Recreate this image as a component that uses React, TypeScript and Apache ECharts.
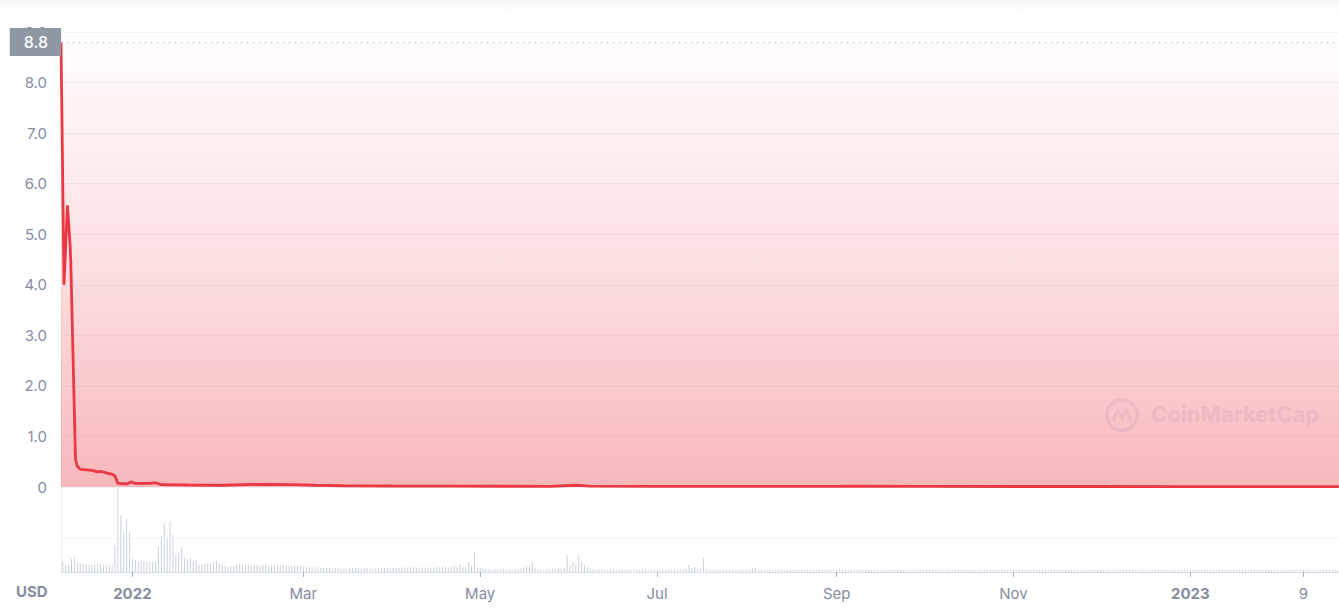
import React, { useEffect, useRef } from 'react';
import * as echarts from 'echarts';

// price samples (local time)
const priceDates = [
  '2021-12-07 09:00', '2021-12-08 10:00', '2021-12-09 14:00', '2021-12-10 12:00', '2021-12-10 18:00',
  '2021-12-12 09:00', '2021-12-12 22:00', '2021-12-14 00:00', '2021-12-16 00:00', '2021-12-18 00:00',
  '2021-12-20 00:00', '2021-12-21 00:00', '2021-12-23 00:00', '2021-12-25 00:00', '2021-12-26 00:00',
  '2021-12-27 00:00', '2021-12-30 00:00', '2021-12-31 12:00', '2022-01-02 00:00', '2022-01-07 00:00',
  '2022-01-09 00:00', '2022-01-11 00:00', '2022-01-20 00:00', '2022-02-01 00:00', '2022-02-15 00:00',
  '2022-02-25 00:00', '2022-03-05 00:00', '2022-03-15 00:00', '2022-04-01 00:00', '2022-04-20 00:00',
  '2022-05-10 00:00', '2022-05-25 00:00', '2022-06-03 00:00', '2022-06-08 00:00', '2022-07-01 00:00',
  '2022-08-01 00:00', '2022-09-01 00:00', '2022-09-05 00:00', '2022-10-01 00:00', '2022-11-01 00:00',
  '2022-12-01 00:00', '2023-01-01 00:00', '2023-02-01 00:00', '2023-02-21 06:00'
];
const priceValues = [
  8.8, 4.0, 5.57, 4.8, 4.45,
  0.55, 0.42, 0.35, 0.34, 0.33,
  0.3, 0.31, 0.28, 0.25, 0.22,
  0.07, 0.06, 0.1, 0.07, 0.07,
  0.085, 0.045, 0.04, 0.035, 0.053,
  0.045, 0.035, 0.025, 0.02, 0.018,
  0.015, 0.012, 0.035, 0.018, 0.014,
  0.013, 0.012, 0.016, 0.011, 0.01,
  0.01, 0.009, 0.009, 0.008
];

// daily volume, first bar on 2021-12-08 (arbitrary units)
const volumeStart = '2021-12-08 00:00';
const volumes = [
  10.7, 6.7, 6.7, 13, 15, 9.3, 8.7, 8, 7.3, 7.3, 7.3, 7.3, 8, 8.3, 7.3, 6.7, 6.7, 6.7, 26.7, 84,
  56.7, 39.3, 54, 39.3, 13.3, 12.3, 10, 11.7, 10.7, 10, 10, 10, 10.7, 25.7, 36, 48.7, 35, 50.7, 37.3, 16.7,
  19.3, 24, 14.3, 13.3, 13.3, 11.7, 11.7, 7.3, 6.7, 8.3, 8.3, 8.3, 10, 11.3, 8, 7, 6.5, 5.5, 5.5, 6,
  7.8, 8, 7.5, 8, 7.2, 6.4, 7.5, 6.8, 6, 7.2, 7.6, 5.8, 6.5, 6.2, 6.6, 6.5, 7.2, 6.8, 6.3, 6.6,
  7, 6, 6.5, 5.2, 4.6, 4.8, 5.1, 4.2, 4.5, 4.3, 4, 4.2, 4.1, 3.8, 3.9, 4, 3.6, 3.8, 3.5, 4.2,
  3.9, 4.1, 3.7, 3.6, 4, 4.4, 3.8, 3.5, 3.9, 4.6, 4.2, 3.8, 4.5, 3.9, 4.3, 4, 4.6, 4.8, 3.9, 4.4,
  4.5, 4.9, 4.3, 3.8, 4.7, 4.2, 4.8, 3.9, 4.1, 5.2, 4.4, 4.9, 5.6, 4.6, 5.3, 6.2, 4.8, 7.3, 5.4, 5,
  10, 6, 20, 5, 4, 3.3, 2.8, 3, 2.6, 2.9, 2.5, 2.8, 3.1, 2.6, 2.9, 2.7, 3, 3.2, 3.4, 4.5,
  6.5, 7, 10, 3.5, 3, 2.8, 2.6, 3, 2.7, 3.2, 2.9, 3.5, 3.6, 4.8, 17, 6, 10, 8, 17, 10,
  7, 5, 4, 3.3, 2.9, 2.7, 3, 2.6, 2.5, 2.8, 2.4, 2.6, 2.5, 2.7, 2.3, 2.5, 2.6, 2.4, 2.5, 2.3,
  2.4, 2.6, 2.3, 2.5, 2.4, 2.2, 2.5, 2.6, 2.3, 2.4, 2.6, 2.7, 2.5, 3, 2.8, 3.2, 7, 4, 5, 3,
  3.5, 14, 3.2, 2.6, 2.4, 2.3, 2.5, 2.2, 2.4, 2.3, 2.5, 2.4, 2.2, 2.3, 2.6, 2.4, 2.7, 3.1, 3.3, 4,
  2.8, 2.5, 2.3, 2.4, 2.2, 2.1, 2.3, 2.2, 2.4, 2.1, 2.2, 2.3, 2.1, 2, 2.2, 2.3, 2.1, 2.2, 2, 2.1,
  2.2, 2, 2.1, 2.3, 2.2, 2, 2.1, 1.9, 2.2, 2.1, 2, 2.2, 2.4, 2.1, 2, 2.3, 2.2, 2.1, 2, 1.9,
  2.1, 2.2, 2, 2.3, 2.1, 2, 1.9, 2.1, 2.2, 2, 2.1, 1.9, 2, 2.2, 2.1, 2, 2.3, 2.1, 1.9, 2,
  2.1, 2, 2.2, 1.9, 2, 2.1, 2.2, 2, 1.9, 2.1, 2, 2.2, 2.1, 1.9, 2, 2.1, 2, 1.9, 2.2, 2,
  2, 2.1, 1.9, 2, 2.2, 2.1, 2, 1.9, 2.1, 2, 2.2, 2, 1.9, 2.1, 2, 2, 2.1, 1.9, 2, 2.1,
  2.2, 2, 1.9, 2.1, 2, 2.1, 2, 1.9, 2.2, 2, 2.1, 2, 1.9, 2, 2.1, 2.2, 2, 1.9, 2.1, 2,
  2, 2.1, 2, 1.9, 2.2, 2, 2.1, 2, 1.9, 2, 2.1, 2, 2.2, 1.9, 2, 2.1, 2, 1.9, 2, 2.1,
  2, 2.2, 2, 1.9, 2.1, 2, 2, 2.1, 1.9, 2, 2.2, 2, 2.1, 1.9, 2, 2, 2.1, 2, 1.9, 2.2,
  2, 2.1, 2, 1.9, 2, 2.1, 2.2, 2, 1.9, 2, 2.1, 2, 2, 1.9, 2.1, 2.2, 2, 1.9, 2, 2.1,
  2, 2.2, 2, 1.9, 2.1, 2, 2, 2.1, 1.9, 2, 2.2, 2, 2.1, 1.9, 2, 2, 2.1, 2, 1.9, 2.2, 2
];

const tickDates = ['2022-01-01 00:00', '2022-03-01 00:00', '2022-05-01 00:00', '2022-07-01 00:00', '2022-09-01 00:00', '2022-11-01 00:00', '2023-01-01 00:00', '2023-02-09 00:00'];
const tickLabels = ['2022', 'Mar', 'May', 'Jul', 'Sep', 'Nov', '2023', '9'];
const boldTicks = ['2022', '2023'];

const yTicks = [0, 1, 2, 3, 4, 5, 6, 7, 8, 9];
const lastPrice = 8.8;

const xMin = '2021-12-07 09:00';
const xMax = '2023-02-21 07:00';

const toTime = (s: string) => {
  const [date, time] = s.split(' ');
  const [y, m, d] = date.split('-').map(Number);
  const [hh, mm] = (time || '00:00').split(':').map(Number);
  return new Date(y, m - 1, d, hh, mm).getTime();
};

const LABEL = '#858CA2';
const FONT = 'Inter, "Noto Sans", sans-serif';
const MARK = 'rgba(226,232,244,0.7)';

export default function App() {
  const chartRef = useRef<HTMLDivElement>(null);

  useEffect(() => {
    if (!chartRef.current) return;
    const chart = echarts.init(chartRef.current, undefined, { renderer: 'svg' });

    const startDate = new Date(toTime(volumeStart));
    const volumeData = volumes.map((v, i) => [
      new Date(startDate.getFullYear(), startDate.getMonth(), startDate.getDate() + i).getTime(),
      v
    ]);
    const priceData = priceDates.map((d, i) => [toTime(d), priceValues[i]]);
    const tickTimes = tickDates.map(toTime);
    const minT = toTime(xMin);
    const maxT = toTime(xMax);

    const labelFor = (value: number) => {
      const idx = tickTimes.findIndex((t) => Math.abs(t - value) < 3600000);
      if (idx < 0) return '';
      const t = tickLabels[idx];
      return boldTicks.includes(t) ? `{b|${t}}` : t;
    };

    chart.setOption({
      animation: false,
      backgroundColor: '#fff',
      textStyle: { fontFamily: FONT },
      grid: [
        { left: 61, right: 0, top: 32, height: 455 },
        { left: 61, right: 0, top: 487, height: 85 }
      ],
      xAxis: [
        {
          type: 'value',
          gridIndex: 0,
          min: minT,
          max: maxT,
          axisLine: { show: false },
          axisTick: { show: false },
          axisLabel: { show: false },
          splitLine: { show: false }
        },
        {
          type: 'value',
          gridIndex: 1,
          min: minT,
          max: maxT,
          axisLine: { show: true, onZero: false, lineStyle: { color: '#cfd6e4', type: 'dotted', width: 1 } },
          axisTick: {
            show: true,
            customValues: tickTimes,
            length: 5,
            lineStyle: { color: '#a9b0bd' }
          },
          axisLabel: {
            customValues: tickTimes,
            formatter: labelFor,
            color: LABEL,
            fontSize: 15,
            margin: 14,
            fontFamily: FONT,
            rich: { b: { fontWeight: 'bold', fontSize: 15, color: LABEL, fontFamily: FONT } }
          },
          splitLine: { show: false }
        }
      ],
      yAxis: [
        {
          type: 'value',
          gridIndex: 0,
          min: yTicks[0],
          max: yTicks[yTicks.length - 1],
          interval: 1,
          axisLine: { show: true, lineStyle: { color: '#eff2f5' } },
          axisTick: { show: false },
          axisLabel: {
            color: LABEL,
            fontSize: 15,
            margin: 14,
            fontFamily: FONT,
            formatter: (v: number) => (v === 0 ? '0' : v.toFixed(1))
          },
          splitLine: { lineStyle: { color: '#eff2f5' } }
        },
        {
          type: 'value',
          gridIndex: 1,
          min: 0,
          max: 85,
          axisLine: { show: true, lineStyle: { color: '#eff2f5' } },
          axisTick: { show: false },
          axisLabel: { show: false },
          splitLine: { show: false }
        }
      ],
      graphic: [
        {
          type: 'rect',
          shape: { x: 0, y: 0, width: 1339, height: 12 },
          style: {
            fill: new echarts.graphic.LinearGradient(0, 0, 0, 1, [
              { offset: 0, color: '#f6f6f7' },
              { offset: 1, color: '#ffffff' }
            ])
          },
          silent: true,
          z: -1
        },
        {
          type: 'text',
          left: 16,
          top: 584,
          style: { text: 'USD', fill: LABEL, font: `bold 15px ${FONT}` }
        },
        {
          type: 'group',
          left: 1105,
          top: 398,
          silent: true,
          z: 10,
          children: [
            {
              type: 'ring',
              shape: { cx: 17, cy: 16, r: 17, r0: 13.5 },
              style: { fill: MARK }
            },
            {
              type: 'polyline',
              shape: { points: [[8, 22], [13, 11], [17, 19], [21, 11], [26, 22]] },
              style: { stroke: MARK, lineWidth: 3, fill: 'none' }
            },
            {
              type: 'text',
              x: 46,
              y: 4,
              style: { text: 'CoinMarketCap', fill: MARK, font: `bold 22px ${FONT}` }
            }
          ]
        }
      ],
      series: [
        {
          type: 'line',
          name: 'Price',
          xAxisIndex: 0,
          yAxisIndex: 0,
          data: priceData,
          showSymbol: false,
          smooth: false,
          lineStyle: { color: '#ea3943', width: 2.8 },
          itemStyle: { color: '#ea3943' },
          markArea: {
            silent: true,
            data: [[{ yAxis: 0 }, { yAxis: lastPrice }]],
            itemStyle: {
              color: new echarts.graphic.LinearGradient(0, 0, 0, 1, [
                { offset: 0, color: 'rgba(234,57,67,0.015)' },
                { offset: 0.5, color: 'rgba(234,57,67,0.16)' },
                { offset: 1, color: 'rgba(234,57,67,0.36)' }
              ])
            }
          },
          markLine: {
            silent: true,
            symbol: 'none',
            animation: false,
            data: [{ yAxis: lastPrice }],
            lineStyle: { color: '#a6acb8', type: [1, 5], width: 1 },
            label: {
              position: 'start',
              distance: 0,
              formatter: () => lastPrice.toFixed(1),
              color: '#fff',
              backgroundColor: '#8f97a5',
              padding: [6, 13, 6, 14],
              fontSize: 16,
              fontWeight: 500,
              fontFamily: FONT
            }
          },
          z: 3
        },
        {
          type: 'bar',
          name: 'Volume',
          xAxisIndex: 1,
          yAxisIndex: 1,
          data: volumeData,
          barWidth: 1,
          itemStyle: { color: '#cbd2dc' },
          markLine: {
            silent: true,
            symbol: 'none',
            animation: false,
            label: { show: false },
            data: [{ yAxis: 34 }],
            lineStyle: { color: '#eff2f5', type: 'solid', width: 1 }
          }
        }
      ]
    });

    return () => {
      chart.dispose();
    };
  }, []);

  return (
    <div
      ref={chartRef}
      style={{ position: 'fixed', left: 0, top: 0, width: '100vw', height: '100vh' }}
    />
  );
}
